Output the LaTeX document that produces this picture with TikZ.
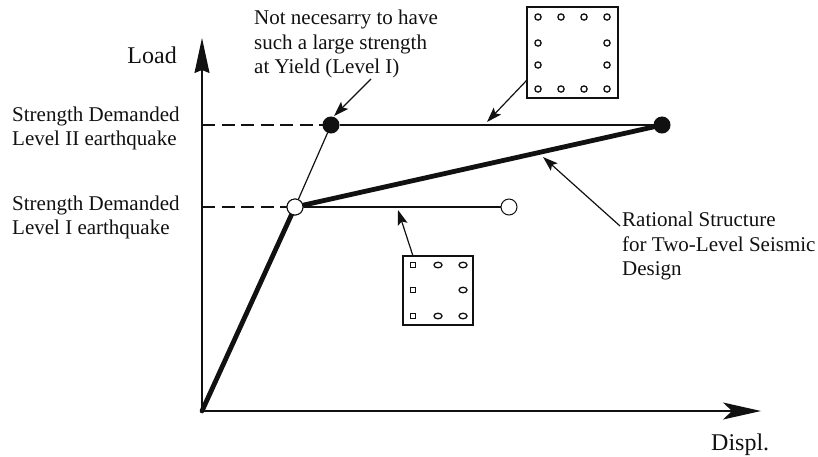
\documentclass[tikz,border=0pt]{standalone}
\usepackage{fontspec}
\setmainfont{Liberation Serif}
\usetikzlibrary{arrows.meta,shapes.geometric}
\definecolor{ink}{HTML}{111111}
\tikzset{
  x=1pt,y=-1pt,
  lbl/.style={inner sep=0pt,font=\fontsize{21}{24.5}\selectfont,align=left,anchor=north west,text=ink},
  big/.style={inner sep=0pt,font=\fontsize{24}{24}\selectfont,text=ink},
  thinl/.style={draw=ink,line width=1.5pt},
  thickl/.style={draw=ink,line width=4.8pt},
  dashl/.style={draw=ink,line width=1.3pt,dash pattern=on 13pt off 6.5pt},
  leader/.style={draw=ink,line width=1.2pt,-{Stealth[length=15pt,width=10pt,inset=3pt]}},
  axisy/.style={draw=ink,line width=1.3pt,-{Stealth[length=35pt,width=15pt,inset=3pt]}},
  axisx/.style={draw=ink,line width=1.3pt,-{Stealth[length=38pt,width=17pt,inset=9pt]}},
  sect/.style={draw=ink,line width=1.2pt,fill=white,inner sep=0pt},
  rbar/.style={draw=ink,line width=1.3pt,circle,inner sep=0pt,minimum size=6.2pt,fill=white},
  sbar/.style={draw=ink,line width=1.3pt,rectangle,inner sep=0pt,minimum size=5.6pt,fill=white},
  obar/.style={draw=ink,line width=1.3pt,ellipse,inner sep=0pt,minimum width=8pt,minimum height=5.6pt,fill=white},
  hing/.style={circle,draw=ink,line width=1pt,inner sep=0pt,minimum size=16pt},
}
\begin{document}
\begin{tikzpicture}
\useasboundingbox (0,0) rectangle (818,456);
\coordinate (O) at (202,411);
\coordinate (ytip) at (202,38);
\coordinate (xtip) at (761,411);
\coordinate (y2) at (202,125);
\coordinate (y1) at (202,207);
\coordinate (s2tip) at (487,122);
\coordinate (s1tip) at (398,210);
\coordinate (nstart) at (371,79);
\coordinate (ntip) at (334,116);
\coordinate (rstart) at (620,226);
\coordinate (rtip) at (543,157);
\coordinate (s2from) at (527,80);
\coordinate (s1from) at (413,256);
% axes
\draw[axisy] (O) -- (ytip);
\draw[axisx] (O) -- (xtip);
% hinges
\node[hing,fill=ink] (p2) at (331,125) {};
\node[hing,fill=ink] (u2) at (662,125) {};
\node[hing,fill=white] (p1) at (295,207) {};
\node[hing,fill=white] (u1) at (509,207) {};
% curves
\draw[dashl] (y2) -- (p2);
\draw[dashl] (y1) -- (p1);
\draw[thinl] (p2) -- (u2);
\draw[thinl] (p1) -- (u1);
\draw[thinl,line width=1.2pt] (p1) -- (p2);
\draw[thickl,line cap=round] (O) -- (p1.center) -- (u2.center);
\node[hing,fill=white] at (p1) {};
% labels
\node[big,anchor=base east] (load) at (177,63) {Load};
\node[lbl] (d2) at (12,106.5) {Strength Demanded\\Level II earthquake};
\node[lbl] (d1) at (12,195.5) {Strength Demanded\\Level I earthquake};
\node[lbl] (note) at (254,10) {Not necesarry to have\\such a large strength\\at Yield (Level I)};
\node[lbl] (rat) at (622,212) {Rational Structure\\for Two-Level Seismic\\Design};
\node[big,anchor=base west] (dis) at (711,450) {Displ.};
% sections
\node[sect,minimum width=91pt,minimum height=91pt] (s2) at (572.5,52.5) {};
\foreach \n/\x/\y in {a/538/17,b/561/17,c/584/17,d/607/17,e/538/43,f/607/43,g/538/65,h/607/65,i/538/89,j/561/89,k/584/89,l/607/89}
  \node[rbar] (bar\n) at (\x,\y) {};
\node[sect,minimum width=70pt,minimum height=69pt] (s1) at (438,290.5) {};
\foreach \n/\x/\y in {a/413/265,b/413/290,c/413/316}
  \node[sbar] (sq\n) at (\x,\y) {};
\foreach \n/\x/\y in {a/438/265,b/463/265,c/463/290,d/438/316,e/463/316}
  \node[obar] (ov\n) at (\x,\y) {};
% leaders
\draw[leader] (s2from) -- (s2tip);
\draw[leader] (s1from) -- (s1tip);
\draw[leader] (nstart) -- (ntip);
\draw[leader] (rstart) -- (rtip);
\end{tikzpicture}
\end{document}
